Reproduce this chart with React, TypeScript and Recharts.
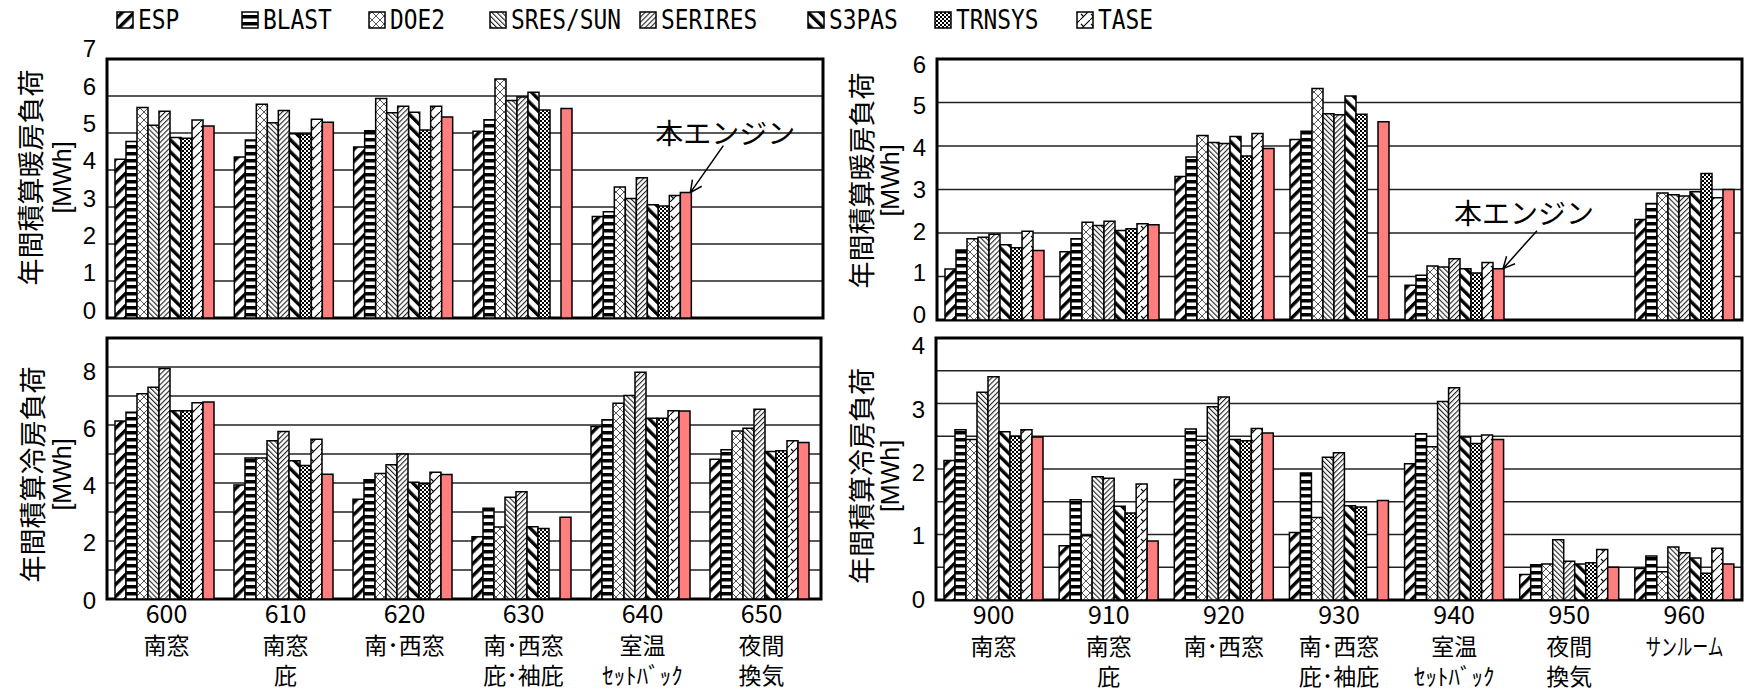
import React from 'react';
import { BarChart, Bar, XAxis, YAxis, CartesianGrid, ReferenceArea, LabelList } from 'recharts';

const seriesNames = ['ESP', 'BLAST', 'DOE2', 'SRES/SUN', 'SERIRES', 'S3PAS', 'TRNSYS', 'TASE', '本エンジン'];
const seriesFills = [
  'url(#pESP)', 'url(#pBLAST)', 'url(#pDOE2)', 'url(#pSRES)', 'url(#pSERI)',
  'url(#pS3PAS)', 'url(#pTRN)', 'url(#pTASE)', '#FF7F7F',
];

const cats600 = ['600', '610', '620', '630', '640', '650'];
const cats900 = ['900', '910', '920', '930', '940', '950', '960'];

const lines600 = [
  ['600', '南窓'], ['610', '南窓', '庇'], ['620', '南･西窓'],
  ['630', '南･西窓', '庇･袖庇'], ['640', '室温', 'ｾｯﾄﾊﾞｯｸ'], ['650', '夜間', '換気'],
];
const lines900 = [
  ['900', '南窓'], ['910', '南窓', '庇'], ['920', '南･西窓'],
  ['930', '南･西窓', '庇･袖庇'], ['940', '室温', 'ｾｯﾄﾊﾞｯｸ'], ['950', '夜間', '換気'], ['960', 'サンルーム'],
];

// rows = categories, columns = series (ESP ... TASE, engine)
const heating600 = [
  [4.29, 4.77, 5.69, 5.21, 5.59, 4.88, 4.86, 5.35, 5.19],
  [4.35, 4.81, 5.78, 5.28, 5.61, 4.98, 4.97, 5.37, 5.29],
  [4.62, 5.06, 5.93, 5.55, 5.72, 5.56, 5.08, 5.72, 5.43],
  [5.05, 5.36, 6.46, 5.88, 5.97, 6.1, 5.62, null, 5.66],
  [2.74, 2.87, 3.54, 3.23, 3.79, 3.06, 3.03, 3.31, 3.39],
  [null, null, null, null, null, null, null, null, null],
];
const heating900 = [
  [1.17, 1.61, 1.87, 1.9, 1.97, 1.73, 1.66, 2.04, 1.6],
  [1.57, 1.87, 2.25, 2.17, 2.27, 2.06, 2.1, 2.21, 2.19],
  [3.3, 3.75, 4.24, 4.08, 4.06, 4.22, 3.77, 4.29, 3.94],
  [4.15, 4.34, 5.32, 4.74, 4.72, 5.15, 4.73, null, 4.56],
  [0.8, 1.03, 1.24, 1.22, 1.41, 1.18, 1.08, 1.32, 1.18],
  [null, null, null, null, null, null, null, null, null],
  [2.31, 2.68, 2.92, 2.88, 2.85, 2.95, 3.37, 2.81, 3.0],
];
const cooling600 = [
  [6.14, 6.44, 7.08, 7.3, 7.95, 6.49, 6.49, 6.77, 6.79],
  [3.93, 4.86, 4.86, 5.46, 5.78, 4.77, 4.6, 5.51, 4.3],
  [3.44, 4.11, 4.33, 4.63, 5.0, 4.03, 3.97, 4.37, 4.29],
  [2.15, 3.13, 2.48, 3.51, 3.7, 2.49, 2.43, null, 2.82],
  [5.95, 6.18, 6.75, 7.02, 7.82, 6.23, 6.23, 6.49, 6.48],
  [4.82, 5.15, 5.79, 5.89, 6.54, 5.09, 5.11, 5.46, 5.4],
];
const cooling900 = [
  [2.13, 2.6, 2.45, 3.17, 3.41, 2.57, 2.5, 2.6, 2.49],
  [0.83, 1.53, 0.98, 1.88, 1.86, 1.43, 1.33, 1.77, 0.9],
  [1.84, 2.61, 2.44, 2.95, 3.1, 2.45, 2.43, 2.62, 2.55],
  [1.03, 1.94, 1.26, 2.18, 2.25, 1.44, 1.42, null, 1.52],
  [2.08, 2.54, 2.34, 3.03, 3.24, 2.49, 2.39, 2.52, 2.45],
  [0.39, 0.54, 0.55, 0.92, 0.59, 0.55, 0.57, 0.77, 0.5],
  [0.48, 0.67, 0.43, 0.81, 0.72, 0.64, 0.41, 0.79, 0.55],
];

const ticksH600 = [0, 1, 2, 3, 4, 5, 6, 7];
const ticksH900 = [0, 1, 2, 3, 4, 5, 6];
const ticksC600 = [0, 1, 2, 3, 4, 5, 6, 7, 8, 9];
const ticksC900 = [0, 0.5, 1, 1.5, 2, 2.5, 3, 3.5, 4];

const CJK = '"Noto Sans CJK JP", sans-serif';
const NUM = '"Liberation Sans", Arial, sans-serif';
const NARROW = '"Liberation Sans Narrow", "Noto Sans CJK JP", sans-serif';

function Patterns() {
  return (
    <svg width={0} height={0} style={{ position: 'absolute' }}>
      <defs>
        <pattern id="pESP" width={8.5} height={8.5} patternUnits="userSpaceOnUse" patternTransform="rotate(45)">
          <rect width={8.5} height={8.5} fill="#fff" />
          <rect width={3.4} height={8.5} fill="#000" />
        </pattern>
        <pattern id="pBLAST" width={8} height={7} patternUnits="userSpaceOnUse">
          <rect width={8} height={7} fill="#fff" />
          <rect y={1} width={8} height={3.5} fill="#000" />
        </pattern>
        <pattern id="pDOE2" width={8} height={8} patternUnits="userSpaceOnUse">
          <rect width={8} height={8} fill="#fff" />
          <path d="M0,0 L8,8 M8,0 L0,8" stroke="#444" strokeWidth={0.9} />
        </pattern>
        <pattern id="pSRES" width={3.6} height={3.6} patternUnits="userSpaceOnUse" patternTransform="rotate(-45)">
          <rect width={3.6} height={3.6} fill="#fff" />
          <rect width={1.1} height={3.6} fill="#222" />
        </pattern>
        <pattern id="pSERI" width={3.6} height={3.6} patternUnits="userSpaceOnUse" patternTransform="rotate(45)">
          <rect width={3.6} height={3.6} fill="#fff" />
          <rect width={1.1} height={3.6} fill="#222" />
        </pattern>
        <pattern id="pS3PAS" width={8.5} height={8.5} patternUnits="userSpaceOnUse" patternTransform="rotate(-45)">
          <rect width={8.5} height={8.5} fill="#fff" />
          <rect width={3.4} height={8.5} fill="#000" />
        </pattern>
        <pattern id="pTRN" width={4} height={4} patternUnits="userSpaceOnUse">
          <rect width={4} height={4} fill="#fff" />
          <rect width={2} height={2} fill="#000" />
          <rect x={2} y={2} width={2} height={2} fill="#000" />
        </pattern>
        <pattern id="pTASE" width={10} height={10} patternUnits="userSpaceOnUse">
          <rect width={10} height={10} fill="#fff" />
          <path d="M0,10 L10,0 M1,4 L4,7" stroke="#000" strokeWidth={1.1} fill="none" />
        </pattern>
      </defs>
    </svg>
  );
}

const legendX = [117, 242, 369, 490, 640, 808, 935, 1077];

function LegendRow() {
  return (
    <svg width={1300} height={40} style={{ position: 'absolute', left: 0, top: 0 }}>
      {legendX.map((lx, j) => (
        <g key={seriesNames[j]}>
          <rect x={lx} y={12} width={16} height={16} fill={seriesFills[j]} stroke="#000" strokeWidth={1.5} />
          <text transform={`translate(${lx + 21},29) scale(0.88,1)`} fontSize={26}
            fontFamily='"DejaVu Sans Mono", monospace' fill="#000">
            {seriesNames[j]}
          </text>
        </g>
      ))}
    </svg>
  );
}

function CatTick(props: any) {
  const { x, y, payload, lines, cats } = props;
  const idx = cats.indexOf(payload.value);
  const ls: string[] = lines[idx] || [];
  return (
    <g>
      {ls.map((t, k) => {
        const narrowKana = t === 'サンルーム';
        return (
          <text
            key={k}
            transform={`translate(${x},${y + 24 + k * 30.5})${narrowKana ? ' scale(0.68,1)' : ''}`}
            textAnchor="middle"
            fontSize={k === 0 ? 25 : 23}
            fontFamily={k === 0 ? NARROW : CJK}
            fill="#000"
          >
            {t}
          </text>
        );
      })}
    </g>
  );
}

function YTick(props: any) {
  const { x, y, payload, fmt, dyA, dyB } = props;
  const v = payload.value;
  const s = fmt(v);
  if (!s) return null;
  return (
    <text x={x} y={y + dyA + dyB * v} textAnchor="end" dominantBaseline="central"
      fontSize={24} fontFamily={NUM} fill="#000">{s}</text>
  );
}

const makeYLabel = (main: string, dy: number, x1: number, x2: number) => (props: any) => {
  const vb = props.viewBox || {};
  const cy = vb.y + vb.height / 2 + dy;
  return (
    <g>
      <text transform={`translate(${vb.x + x1},${cy}) rotate(-90)`} textAnchor="middle"
        dominantBaseline="central" fontSize={27} fontFamily={CJK} fill="#000">{main}</text>
      <text transform={`translate(${vb.x + x2},${cy}) rotate(-90)`} textAnchor="middle"
        dominantBaseline="central" fontSize={25} fontFamily={NUM} fill="#000">[MWh]</text>
    </g>
  );
};

function NoteMark({ x, y, w, note }: any) {
  const tx = x + w - 1;
  const ty = y;
  const sx = tx + note.ax;
  const sy = ty + note.ay;
  const len = Math.hypot(tx - sx, ty - sy);
  const ux = (tx - sx) / len;
  const uy = (ty - sy) / len;
  const head = (a: number) => {
    const c = Math.cos(a), s = Math.sin(a);
    return `M${tx},${ty} L${tx - 13 * (ux * c - uy * s)},${ty - 13 * (ux * s + uy * c)}`;
  };
  return (
    <g>
      <path d={`M${sx},${sy} L${tx},${ty} ${head(0.45)} ${head(-0.45)}`} stroke="#000" strokeWidth={1.5} fill="none" />
      <text x={tx + note.tx} y={ty + note.ty} textAnchor="middle" dominantBaseline="central"
        fontSize={28} fontFamily={CJK} fill="#000">本エンジン</text>
    </g>
  );
}

function Panel(p: any) {
  const data = p.cats.map((c: string, i: number) => {
    const o: any = { cat: c };
    p.rows[i].forEach((v: number | null, j: number) => { o['s' + j] = v; });
    return o;
  });
  const max = p.ticks[p.ticks.length - 1];
  return (
    <div style={{ position: 'absolute', left: p.left, top: p.top }}>
      <BarChart width={p.width} height={p.height} data={data} margin={p.margin} barCategoryGap={8} barGap={0}>
        <CartesianGrid vertical={false} stroke="#222" strokeWidth={1.6} />
        <XAxis
          dataKey="cat"
          hide={!p.lines}
          height={p.xHeight || 1}
          axisLine={false}
          tickLine={false}
          tickSize={0}
          tickMargin={0}
          interval={0}
          tick={p.lines ? <CatTick lines={p.lines} cats={p.cats} /> : false}
        />
        <YAxis
          type="number"
          domain={[0, max]}
          ticks={p.ticks}
          interval={0}
          width={p.yWidth}
          axisLine={false}
          tickLine={false}
          tickSize={6}
          tickMargin={5}
          tick={<YTick fmt={p.fmt} dyA={p.dyA} dyB={p.dyB} />}
          label={makeYLabel(p.yLabel, p.labelDy, p.lx1, p.lx2)}
        />
        {seriesNames.map((n, j) => (
          <Bar key={n} dataKey={'s' + j} fill={seriesFills[j]} stroke="#000" strokeWidth={1.5} isAnimationActive={false}>
            {j === 8 && p.note ? (
              <LabelList
                dataKey={'s' + j}
                content={(lp: any) => {
                  if (lp.index !== p.note.index) return null;
                  const vb = lp.viewBox || {};
                  const x = lp.x ?? vb.x;
                  const y = lp.y ?? vb.y;
                  const w = lp.width ?? vb.width;
                  return <NoteMark x={x} y={y} w={w} note={p.note} />;
                }}
              />
            ) : null}
          </Bar>
        ))}
        <ReferenceArea y1={0} y2={max} fill="none" stroke="#000" strokeWidth={3} ifOverflow="visible" />
      </BarChart>
    </div>
  );
}

const intFmt = (v: number) => (Number.isInteger(v) ? String(v) : '');
const evenFmt = (v: number) => (v % 2 === 0 && v < 9 ? String(v) : '');

export default function App() {
  return (
    <div style={{ position: 'absolute', left: 0, top: 0, width: 1744, height: 693, background: '#fff' }}>
      <Patterns />
      <LegendRow />
      <Panel
        left={0} top={32} width={830} height={308}
        margin={{ top: 27, right: 7, bottom: 22, left: 0 }} yWidth={107}
        cats={cats600} rows={heating600} ticks={ticksH600} fmt={intFmt} dyA={-8} dyB={-0.3}
        yLabel="年間積算暖房負荷" labelDy={-11} lx1={29} lx2={62}
        note={{ index: 4, tx: 35, ty: -61, ax: 33, ay: -47 }}
      />
      <Panel
        left={830} top={32} width={914} height={308}
        margin={{ top: 27, right: 2, bottom: 20, left: 0 }} yWidth={107}
        cats={cats900} rows={heating900} ticks={ticksH900} fmt={intFmt} dyA={-5.5} dyB={1.75}
        yLabel="年間積算暖房負荷" labelDy={-9} lx1={30} lx2={60}
        note={{ index: 4, tx: 21, ty: -57, ax: 34, ay: -38 }}
      />
      <Panel
        left={0} top={325} width={830} height={368}
        margin={{ top: 13, right: 9, bottom: 0, left: 0 }} yWidth={107} xHeight={94}
        cats={cats600} rows={cooling600} lines={lines600} ticks={ticksC600} fmt={evenFmt} dyA={1} dyB={0.4}
        yLabel="年間積算冷房負荷" labelDy={6} lx1={31} lx2={62}
      />
      <Panel
        left={830} top={325} width={914} height={368}
        margin={{ top: 13, right: 2, bottom: 0, left: 0 }} yWidth={106} xHeight={93}
        cats={cats900} rows={cooling900} lines={lines900} ticks={ticksC900} fmt={intFmt} dyA={-1} dyB={2.2}
        yLabel="年間積算冷房負荷" labelDy={7} lx1={30} lx2={60}
      />
    </div>
  );
}
